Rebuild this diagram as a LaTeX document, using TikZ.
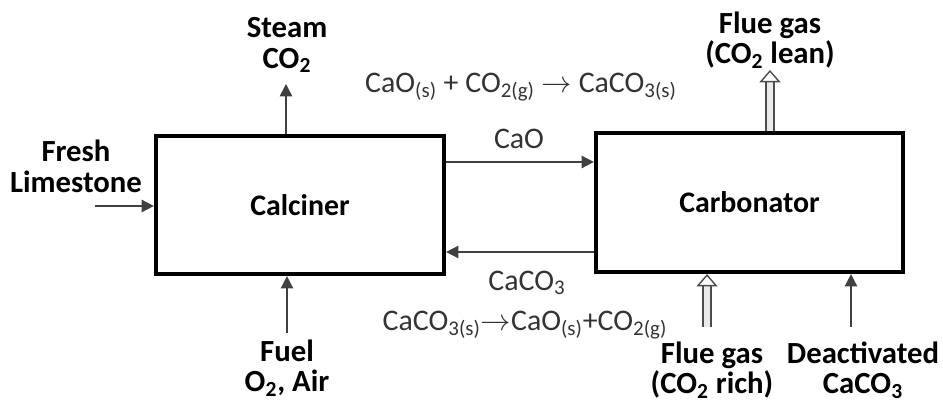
\documentclass[tikz,border=0pt]{standalone}
\usepackage{fontspec}
\setmainfont{Carlito}
\usetikzlibrary{arrows.meta,positioning}

\newcommand{\dn}[1]{\textsubscript{#1}}

\begin{document}
\begin{tikzpicture}[
  x=0.02cm, y=-0.02cm,
  font=\fontsize{17}{19}\selectfont,
  >={Triangle[length=7pt, width=7pt]},
  unit/.style={rectangle, draw=black, line width=2.4pt, fill=white,
               font=\fontsize{17}{19}\selectfont\bfseries},
  lbl/.style={align=center, inner sep=0pt, font=\fontsize{17.5}{17.5}\selectfont\bfseries},
  txt/.style={inner sep=0pt, text=black!80},
  flow/.style={->, line width=0.9pt, draw=black!75},
  gas/.style={-{Triangle[open, length=7pt, width=12pt]}, double=black!8,
              double distance=3.6pt, line width=0.8pt, draw=black!70},
]
\useasboundingbox (0,0) rectangle (943,404);

\node[unit, minimum width=5.76cm, minimum height=2.76cm] (calc) at (300,205) {Calciner};
\node[unit, minimum width=6.14cm, minimum height=2.78cm] (carb) at (749.5,202.5) {Carbonator};

\node[lbl] (steam)   at (287,45)  {Steam\\CO\dn{2}};
\node[lbl] (fresh)   at (76,166)  {Fresh\\Limestone};
\node[lbl] (fuel)    at (287,368) {Fuel\\O\dn{2}, Air};
\node[lbl] (fluetop) at (770,40)  {Flue gas\\(CO\dn{2} lean)};
\node[lbl] (fluebot) at (712,370) {Flue gas\\(CO\dn{2} rich)};
\node[lbl] (deact)   at (863,370) {Deactivated\\CaCO\dn{3}};

\node[txt] (rxntop) at (521,87)  {CaO\dn{(s)} + CO\dn{2(g)} $\rightarrow$ CaCO\dn{3(s)}};
\node[txt] (rxnbot) at (525,325) {CaCO\dn{3(s)}$\rightarrow$CaO\dn{(s)}+CO\dn{2(g)}};
\node[txt] (cao)    at (519,139) {CaO};
\node[txt] (caco)   at (527,283) {CaCO\dn{3}};

% free ends of the feed and product streams
\coordinate (stmtip)  at (286,84);
\coordinate (limein)  at (95,206);
\coordinate (fuelin)  at (287,333);
\coordinate (fluetip) at (770,70);
\coordinate (fluein)  at (707,327);
\coordinate (deactin) at (851,327);

\draw[flow] (calc.north -| stmtip) -- (stmtip);
\draw[flow] (limein) -- (calc.west |- limein);
\draw[flow] (fuelin) -- (calc.south -| fuelin);
\draw[flow] (calc.east |- 0,162) -- (carb.west |- 0,162);
\draw[flow] (carb.west |- 0,252) -- (calc.east |- 0,252);
\draw[gas]  (carb.north -| fluetip) -- (fluetip);
\draw[gas]  (fluein) -- (carb.south -| fluein);
\draw[flow] (deactin) -- (carb.south -| deactin);

\end{tikzpicture}
\end{document}
